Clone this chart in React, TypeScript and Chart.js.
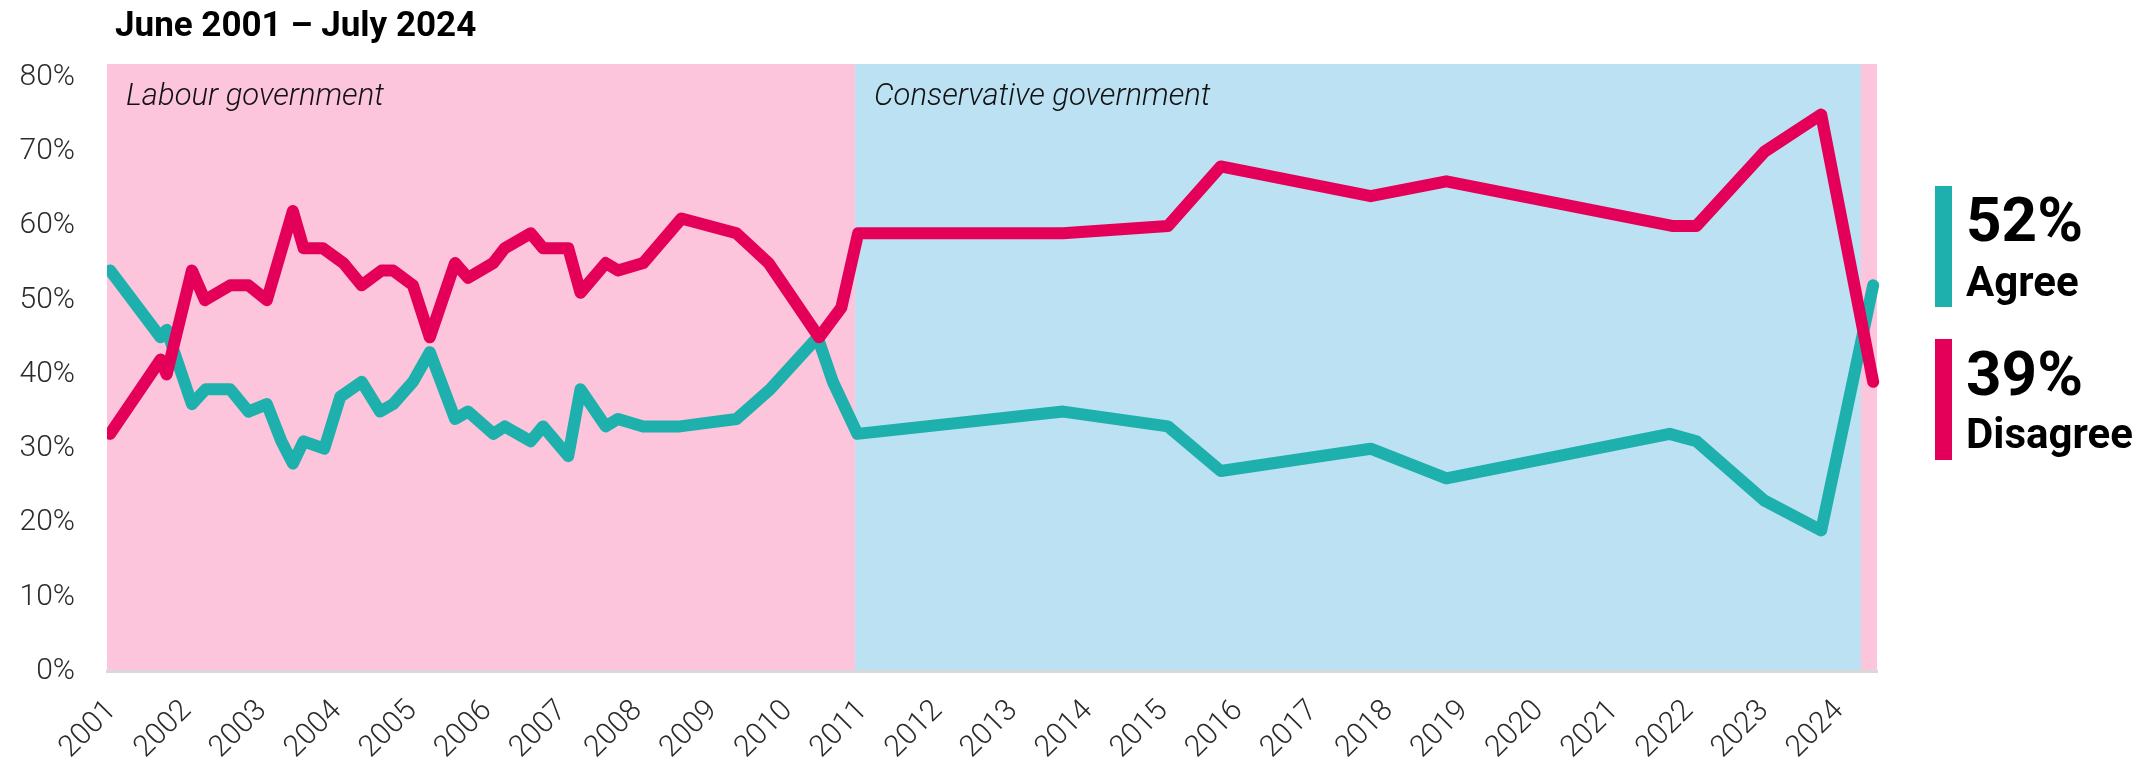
import React, { useEffect, useRef } from 'react';
import { Chart, registerables } from 'chart.js';

Chart.register(...registerables);

// Survey dates (decimal years) and shares (%) — June 2001 to July 2024
const agreeDates = [2001.46, 2002.12, 2002.2, 2002.53, 2002.71, 2003.03, 2003.27, 2003.51, 2003.7, 2003.85, 2003.99, 2004.26, 2004.47, 2004.75, 2004.99, 2005.16, 2005.42, 2005.64, 2005.97, 2006.14, 2006.47, 2006.62, 2006.96, 2007.12, 2007.45, 2007.61, 2007.94, 2008.1, 2008.43, 2008.91, 2009.65, 2010.09, 2010.71, 2010.91, 2011.23, 2013.92, 2015.29, 2015.98, 2017.94, 2018.93, 2021.85, 2022.2, 2023.09, 2023.83, 2024.51];
const agreeValues = [54, 45, 46, 36, 38, 38, 35, 36, 31, 28, 31, 30, 37, 39, 35, 36, 39, 43, 34, 35, 32, 33, 31, 33, 29, 38, 33, 34, 33, 33, 34, 38, 45, 39, 32, 35, 33, 27, 30, 26, 32, 31, 23, 19, 52];

const disagreeDates = [2001.46, 2002.12, 2002.2, 2002.53, 2002.7, 2003.03, 2003.27, 2003.51, 2003.85, 2003.99, 2004.24, 2004.51, 2004.75, 2005.01, 2005.16, 2005.42, 2005.64, 2005.97, 2006.14, 2006.47, 2006.62, 2006.96, 2007.12, 2007.45, 2007.61, 2007.94, 2008.1, 2008.43, 2008.93, 2009.65, 2010.07, 2010.73, 2011.02, 2011.24, 2013.92, 2015.29, 2015.98, 2017.94, 2018.93, 2021.88, 2022.2, 2023.09, 2023.83, 2024.51];
const disagreeValues = [32, 42, 40, 54, 50, 52, 52, 50, 62, 57, 57, 55, 52, 54, 54, 52, 45, 55, 53, 55, 57, 59, 57, 57, 51, 55, 54, 55, 61, 59, 55, 45, 49, 59, 59, 60, 68, 64, 66, 60, 60, 70, 75, 39];

// Year tick labels
const yearLabels = ['2001', '2002', '2003', '2004', '2005', '2006', '2007', '2008', '2009', '2010', '2011', '2012', '2013', '2014', '2015', '2016', '2017', '2018', '2019', '2020', '2021', '2022', '2023', '2024'];
const yTickValues = [0, 10, 20, 30, 40, 50, 60, 70, 80];

// Government periods
const govParties = ['Labour', 'Conservative', 'Labour'];
const govNames = ['Labour government', 'Conservative government', ''];
const govStarts = [2001.42, 2011.2, 2024.35];
const govEnds = [2011.2, 2024.35, 2024.56];

// Axis ranges / layout
const X_MIN = 2001.42;
const X_MAX = 2024.56;
const Y_MAX = 81.8;
const X_TICK_START = 2001.485;
const X_TICK_STEP = 0.9818;

const TEAL = '#1DB0AD';
const RED = '#E40059';
const partyColors: Record<string, string> = { Labour: '#FDC5DB', Conservative: '#BBE1F2' };
const FONT = 'Roboto, "Noto Sans", sans-serif';

const govPlugin = {
  id: 'govBands',
  beforeDraw(chart: any) {
    const { ctx, chartArea, scales } = chart;
    const x = scales.x;
    ctx.save();
    govStarts.forEach((s, i) => {
      const x0 = x.getPixelForValue(s);
      const x1 = x.getPixelForValue(govEnds[i]);
      ctx.fillStyle = partyColors[govParties[i]];
      ctx.fillRect(x0, chartArea.top, x1 - x0, chartArea.bottom - chartArea.top);
    });
    ctx.restore();
  },
  beforeDatasetsDraw(chart: any) {
    const { ctx, chartArea, scales } = chart;
    const x = scales.x;
    ctx.save();
    ctx.font = `italic 300 31px ${FONT}`;
    ctx.fillStyle = '#111';
    ctx.textBaseline = 'alphabetic';
    ctx.textAlign = 'left';
    govStarts.forEach((s, i) => {
      if (!govNames[i]) return;
      ctx.fillText(govNames[i], x.getPixelForValue(s) + 19, chartArea.top + 41);
    });
    ctx.restore();
  },
};

export default function App() {
  const canvasRef = useRef<HTMLCanvasElement | null>(null);

  useEffect(() => {
    if (!canvasRef.current) return;
    const chart = new Chart(canvasRef.current, {
      type: 'line',
      data: {
        datasets: [
          {
            label: 'Agree',
            data: agreeDates.map((d, i) => ({ x: d, y: agreeValues[i] })),
            borderColor: TEAL,
            borderWidth: 12,
            pointRadius: 0,
            tension: 0,
            borderCapStyle: 'round',
            borderJoinStyle: 'round',
            order: 2,
            clip: { left: 0, top: 10, right: 10, bottom: 0 } as any,
          },
          {
            label: 'Disagree',
            data: disagreeDates.map((d, i) => ({ x: d, y: disagreeValues[i] })),
            borderColor: RED,
            borderWidth: 12,
            pointRadius: 0,
            tension: 0,
            borderCapStyle: 'round',
            borderJoinStyle: 'round',
            order: 1,
            clip: { left: 0, top: 10, right: 10, bottom: 0 } as any,
          },
        ],
      },
      options: {
        responsive: false,
        animation: false,
        layout: { padding: { top: 64, right: 270, left: 0, bottom: 0 } },
        plugins: { legend: { display: false }, tooltip: { enabled: false }, title: { display: false } },
        scales: {
          x: {
            type: 'linear',
            min: X_MIN,
            max: X_MAX,
            grid: { display: false, drawTicks: false },
            border: { display: true, color: '#D9D9D9', width: 3 },
            afterBuildTicks: (scale: any) => {
              scale.ticks = yearLabels.map((_, i) => ({ value: X_TICK_START + i * X_TICK_STEP }));
            },
            afterFit: (scale: any) => {
              scale.height = 96.5;
            },
            ticks: {
              autoSkip: false,
              minRotation: 45,
              maxRotation: 45,
              padding: 22,
              color: '#2B2B2B',
              font: { family: FONT, size: 30, weight: '300' as any },
              callback: (_v: any, i: number) => yearLabels[i],
            },
          },
          y: {
            type: 'linear',
            min: 0,
            max: Y_MAX,
            grid: { display: false, drawTicks: false },
            border: { display: false },
            afterBuildTicks: (scale: any) => {
              scale.ticks = yTickValues.map((v) => ({ value: v }));
            },
            afterFit: (scale: any) => {
              scale.width = 107;
            },
            ticks: {
              padding: 32,
              color: '#2B2B2B',
              font: { family: FONT, size: 30, weight: '300' as any },
              callback: (v: any) => `${v}%`,
            },
          },
        },
      },
      plugins: [govPlugin],
    });
    return () => chart.destroy();
  }, []);

  const lastAgree = agreeValues[agreeValues.length - 1];
  const lastDisagree = disagreeValues[disagreeValues.length - 1];

  const big: React.CSSProperties = { position: 'absolute', left: 1966, fontFamily: FONT, fontWeight: 700, fontSize: 62, lineHeight: '62px', color: '#000', whiteSpace: 'nowrap' };
  const small: React.CSSProperties = { position: 'absolute', left: 1966, fontFamily: FONT, fontWeight: 700, fontSize: 42, lineHeight: '42px', color: '#000', whiteSpace: 'nowrap' };

  return (
    <div style={{ position: 'fixed', left: 0, top: 0, width: 2147, height: 768, background: '#fff', overflow: 'hidden' }}>
      <canvas ref={canvasRef} width={2147} height={768} style={{ position: 'absolute', left: 0, top: 0, width: 2147, height: 768 }} />
      <div style={{ position: 'absolute', left: 115, top: 6.5, fontFamily: FONT, fontWeight: 700, fontSize: 35, lineHeight: '35px', color: '#000', whiteSpace: 'nowrap' }}>
        June 2001 – July 2024
      </div>
      <div style={{ position: 'absolute', left: 1935, top: 186, width: 17, height: 121, background: TEAL }} />
      <div style={{ ...big, top: 188.5 }}>{lastAgree}%</div>
      <div style={{ ...small, top: 261.4 }}>Agree</div>
      <div style={{ position: 'absolute', left: 1935, top: 339, width: 17, height: 121, background: RED }} />
      <div style={{ ...big, top: 342.8 }}>{lastDisagree}%</div>
      <div style={{ ...small, top: 412.7 }}>Disagree</div>
    </div>
  );
}
